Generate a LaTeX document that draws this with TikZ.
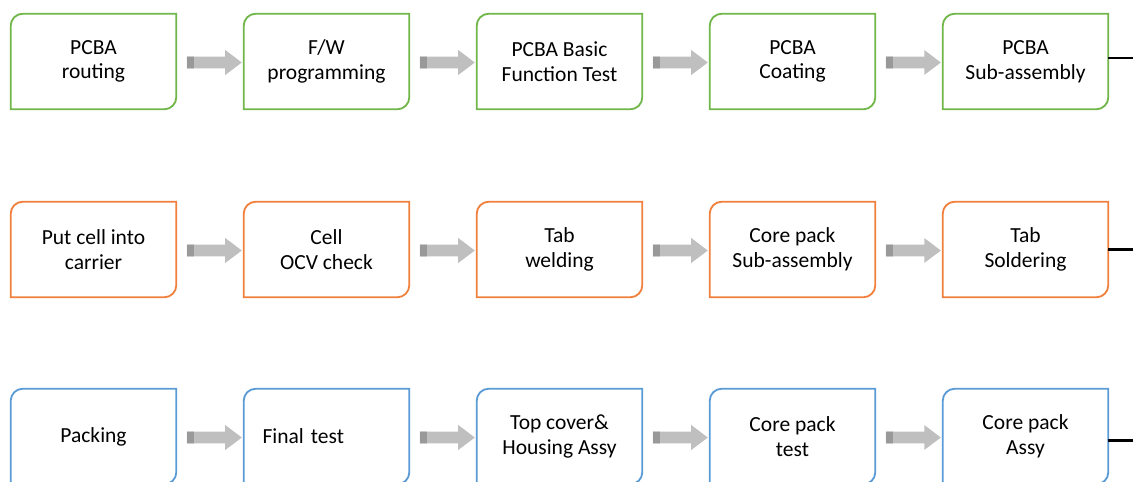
\documentclass[tikz,border=0pt]{standalone}
\usepackage{fontspec}
\setmainfont{Carlito}
\usetikzlibrary{calc,shapes.arrows,positioning}
\definecolor{pcbgreen}{RGB}{112,182,72}
\definecolor{cellorange}{RGB}{240,128,60}
\definecolor{packblue}{RGB}{91,155,213}
\tikzset{
    stage/.style = {rectangle, inner sep=0pt,
        minimum height=2.375cm,
        minimum width=4.125cm, align=center,
        font=\fontsize{15.3pt}{17.5pt}\selectfont},
    flow/.style = {single arrow, draw=none, fill=black!25,
        inner sep=0pt, text height=0.28cm, text depth=0pt,
        minimum height=1.375cm, single arrow head extend=0.165cm,
        single arrow tip angle=74, single arrow head indent=0pt,
        path picture={\fill[black!40] (path picture bounding box.south west)
            rectangle ([xshift=0.17cm]path picture bounding box.north west);}},
    outlet/.style = {draw, line width=2pt}
}

\begin{document}
\begin{tikzpicture}[node distance=5.825cm]
        \useasboundingbox (0,0) rectangle (28.325,-12.025);
        % row 1: PCBA
        \node [stage] at (2.3375,-1.5375) (p1) {PCBA\\routing};
        \node [stage, right of=p1] (p2) {F/W\\programming};
        \node [stage, right of=p2] (p3) {PCBA Basic\\Function Test};
        \node [stage, right of=p3] (p4) {PCBA\\Coating};
        \node [stage, right of=p4] (p5) {PCBA\\Sub-assembly};
        % row 2: cells
        \node [stage, below of=p1, node distance=4.7cm] (c1) {Put cell into\\carrier};
        \node [stage, right of=c1] (c2) {Cell\\OCV check};
        \node [stage, right of=c2] (c3) {Tab\\welding};
        \node [stage, right of=c3] (c4) {Core pack\\Sub-assembly};
        \node [stage, right of=c4] (c5) {Tab\\Soldering};
        % row 3: pack
        \node [stage, below of=c1, node distance=4.675cm] (h1) {Packing};
        \node [stage, right of=h1, text width=3.2cm, align=left] (h2) {Final test};
        \node [stage, right of=h2] (h3) {Top cover\&\\Housing Assy};
        \node [stage, right of=h3] (h4) {Core pack\\test};
        \node [stage, right of=h4] (h5) {Core pack\\Assy};
        % outlines, round corners only top left and bottom right
        \foreach \n/\c in {p1/pcbgreen,p2/pcbgreen,p3/pcbgreen,p4/pcbgreen,p5/pcbgreen,
                           c1/cellorange,c2/cellorange,c3/cellorange,c4/cellorange,c5/cellorange,
                           h1/packblue,h2/packblue,h3/packblue,h4/packblue,h5/packblue}
            \draw [\c, line width=1.3pt] ($(\n.north west)+(0,-0.3)$) arc[start angle=180,end angle=90,radius=0.3]
                -- (\n.north east) -- ($(\n.south east)+(0,0.3)$) arc[start angle=0,end angle=-90,radius=0.3]
                -- (\n.south west) -- cycle;
        % block arrows
        \foreach \r in {p,c,h}
            \foreach \i [count=\j from 2] in {1,...,4}
                \node [flow] at ($(\r\i)!.5!(\r\j)+(0.01,-0.025)$) (a\r\i) {};
        % lines leaving to the right
        \coordinate (e1) at ($(p5.east)+(0.7,0.09)$);
        \coordinate (e2) at ($(c5.east)+(0.7,0)$);
        \coordinate (e3) at ($(h5.east)+(0.7,-0.1)$);
        \draw [outlet] ([yshift=0.09cm]p5.east) -- (e1);
        \draw [outlet] (c5.east) -- (e2);
        \draw [outlet] ([yshift=-0.1cm]h5.east) -- (e3);
    \end{tikzpicture}
\end{document}
